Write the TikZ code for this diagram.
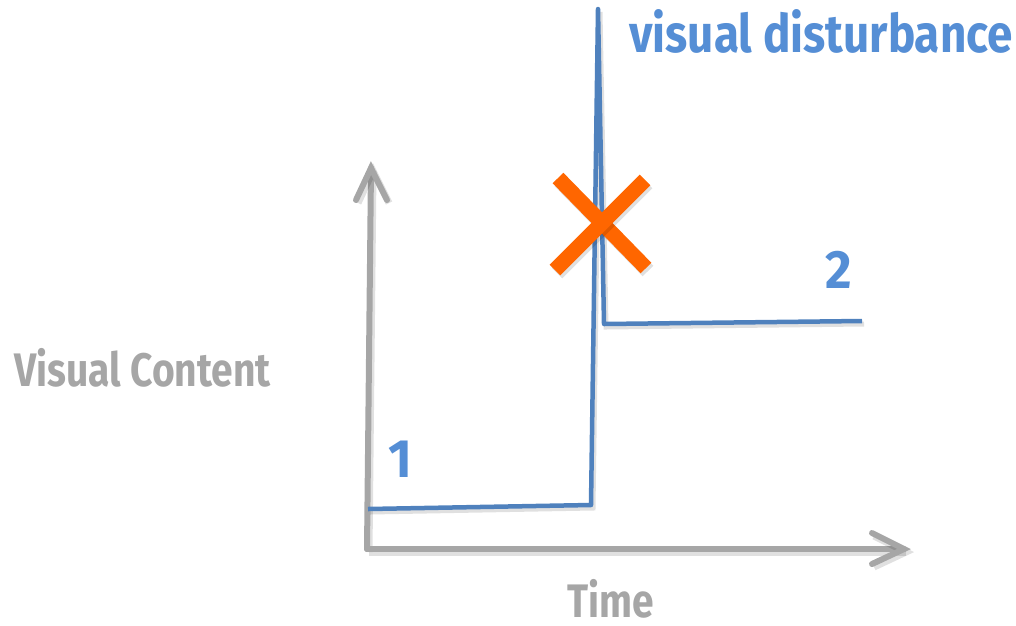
\documentclass[tikz,border=0pt]{standalone}
\usepackage{fontspec}
\newfontfamily\bluefont[FakeStretch=0.865]{Fira Sans}
\newfontfamily\grayfont[FakeStretch=0.83]{Fira Sans}
\newfontfamily\digitfont[FakeStretch=0.95]{Fira Sans}
\usetikzlibrary{calc}
\definecolor{axisgray}{RGB}{166,166,166}
\definecolor{curveblue}{RGB}{79,129,189}
\definecolor{textblue}{RGB}{85,142,213}
\definecolor{crossorange}{RGB}{255,102,0}
\tikzset{
  shadowed/.style={preaction={draw=black,opacity=0.12,line width=#1,transform canvas={shift={(2pt,-3pt)}}}},
  axisline/.style={draw=axisgray,line width=6pt,line cap=round,line join=miter,shadowed=7pt},
  curve/.style={draw=curveblue,line width=4.5pt,line join=round,shadowed=5pt},
  crossbar/.style={draw=crossorange,line width=15pt,shadowed=15pt},
  graylabel/.style={text=axisgray,font=\grayfont\bfseries\fontsize{47}{47}\selectfont,inner sep=0pt,anchor=base west},
  bluelabel/.style={text=textblue,font=\bluefont\bfseries\fontsize{53}{53}\selectfont,inner sep=0pt,anchor=base west},
  digitlabel/.style={text=textblue,font=\digitfont\bfseries\fontsize{54}{54}\selectfont,inner sep=0pt,anchor=base west}
}
\begin{document}
\begin{tikzpicture}[x=1pt,y=-1pt]
\useasboundingbox (0,0) rectangle (1016,625);
% axes
\coordinate (O) at (367,549);
\coordinate (ytip) at (371,168);
\coordinate (xtip) at (904,549);
\draw[axisline] (O) -- (ytip);
\draw[axisline] ($(ytip)+(-15,32)$) -- (ytip) -- ($(ytip)+(16,32)$);
\draw[axisline] (O) -- (xtip);
\draw[axisline] ($(xtip)+(-32,-16)$) -- (xtip) -- ($(xtip)+(-32,15)$);
% curve
\coordinate (c1) at (368,509);
\coordinate (c2) at (591,505);
\coordinate (peak) at (598,9);
\coordinate (c3) at (604,324);
\coordinate (c4) at (862,321);
\draw[curve] (c1) -- (c2) -- (peak) -- (c3) -- (c4);
% cross
\coordinate (x1) at (558,178);
\coordinate (x2) at (646,268);
\coordinate (x3) at (645,180);
\coordinate (x4) at (555,270);
\draw[crossbar] (x1) -- (x2);
\draw[crossbar] (x3) -- (x4);
% labels
\node[bluelabel] (vd) at (629,52) {visual disturbance};
\node[graylabel] (vc) at (14,386) {Visual Content};
\node[graylabel] (tm) at (567,617) {Time};
\node[digitlabel] (l1) at (388,477) {1};
\node[digitlabel] (l2) at (825,288) {2};
\end{tikzpicture}
\end{document}
